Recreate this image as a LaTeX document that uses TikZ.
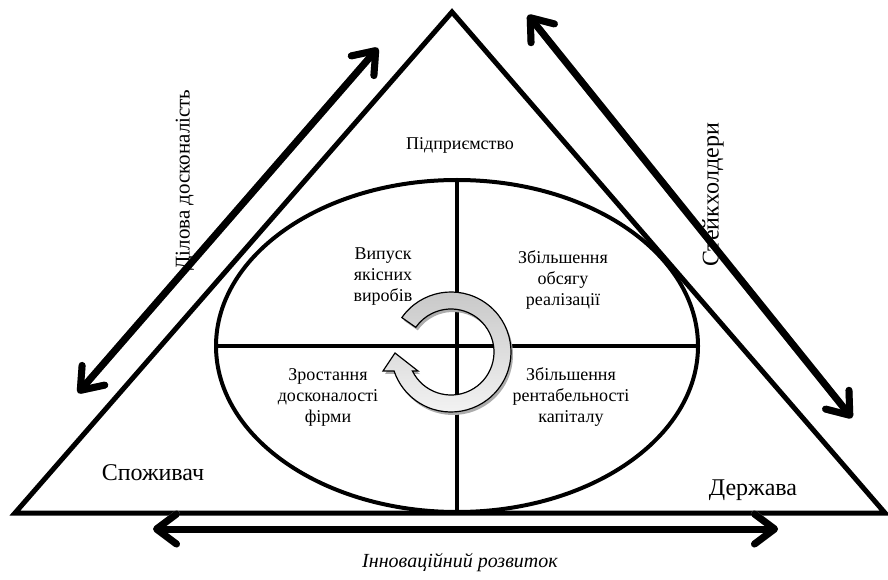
\documentclass[tikz,border=0pt]{standalone}
\usepackage{fontspec}
\setmainfont{Liberation Serif}
\usetikzlibrary{arrows.meta,shapes.geometric}
\begin{document}
\begin{tikzpicture}[x=1pt,y=1pt,
  tri/.style={line width=5pt, line join=miter},
  quad/.style={line width=4pt},
  lbl/.style={font=\fontsize{18}{21}\selectfont, align=center, inner sep=0pt},
  biglbl/.style={font=\fontsize{24}{28}\selectfont, inner sep=0pt},
  sidelbl/.style={font=\fontsize{21}{25}\selectfont, inner sep=0pt},
  itlbl/.style={font=\fontsize{20}{24}\selectfont\itshape, inner sep=0pt},
  dbl/.style={line width=7pt, line cap=round,
    {Straight Barb[length=20pt,width=30pt,round]}-{Straight Barb[length=20pt,width=30pt,round]}},
  shadowline/.style={draw=gray!65},
  ring/.style={draw=black, line width=1.2pt, line join=miter, top color=gray!45, bottom color=gray!8}]
\useasboundingbox (0,0) rectangle (888,579);
% triangle
\coordinate (apex) at (452,567);
\coordinate (bl) at (15,66);
\coordinate (br) at (885,66);
\draw[tri] (apex) -- (bl) -- (br) -- cycle;
% ellipse with quadrants
\node[draw, ellipse, line width=4pt, minimum width=482pt, minimum height=332pt, inner sep=0pt, outer sep=0pt] (E) at (457,233) {};
\draw[quad] (E.north) -- (E.south);
\draw[quad] (E.west) -- (E.east);
% circular arrow
\coordinate (C) at (451,227);
\coordinate (Cs) at (453,224);
\fill[gray!65] ([shift={(145:60)}]Cs) arc[start angle=145, end angle=-161.6, radius=60]
  -- ([shift={(-68,-19)}]Cs) -- ([shift={(-56,-1)}]Cs) -- ([shift={(-33,-19)}]Cs)
  -- ([shift={(-153.8:43)}]Cs) arc[start angle=-153.8, end angle=145, radius=43] -- cycle;
\path[ring] ([shift={(145:60)}]C) arc[start angle=145, end angle=-161.6, radius=60]
  -- ([shift={(-68,-19)}]C) -- ([shift={(-56,-1)}]C) -- ([shift={(-33,-19)}]C)
  -- ([shift={(-153.8:43)}]C) arc[start angle=-153.8, end angle=145, radius=43] -- cycle;
% texts
\node[lbl] (ent) at (460,434) {Підприємство};
\node[lbl] (q1) at (383,302) {Випуск\\якісних\\виробів};
\node[lbl] (q2) at (563,299) {Збільшення\\обсягу\\реалізації};
\node[lbl] (q3) at (328,182) {Зростання\\досконалості\\фірми};
\node[lbl] (q4) at (571,182) {Збільшення\\рентабельності\\капіталу};
\node[biglbl] (cons) at (153,106) {Споживач};
\node[biglbl] (state) at (753,89) {Держава};
\node[sidelbl, rotate=90] (lab1) at (185,399) {Ділова досконалість};
\node[biglbl, rotate=90] (lab2) at (713,384) {Стейкхолдери};
\node[itlbl] (lab3) at (460,16) {Інноваційний розвиток};
% double arrows
\coordinate (l1) at (78,186);
\coordinate (l2) at (378,531);
\coordinate (r1) at (528,564);
\coordinate (r2) at (852,161);
\coordinate (b1) at (153,50);
\coordinate (b2) at (778,50);
\begin{scope}[shift={(2,-3)}]
\draw[dbl, shadowline] (l1) -- (l2);
\draw[dbl, shadowline] (r1) -- (r2);
\draw[dbl, shadowline] (b1) -- (b2);
\end{scope}
\draw[dbl] (l1) -- (l2);
\draw[dbl] (r1) -- (r2);
\draw[dbl] (b1) -- (b2);
\end{tikzpicture}
\end{document}
